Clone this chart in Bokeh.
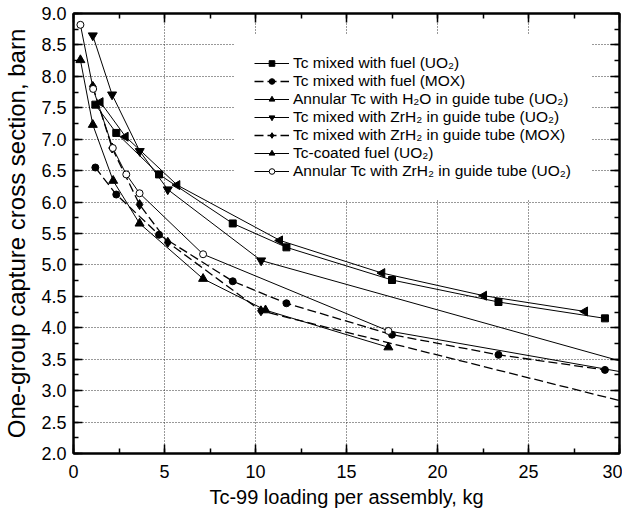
from bokeh.plotting import figure
from bokeh.models import (Legend, LegendItem, LinearAxis, SingleIntervalTicker,
                          Range1d, NumeralTickFormatter, CustomJSTickFormatter)
from bokeh.embed import file_html
from bokeh.resources import INLINE

# ---- data ----
x_uo2_mixed = [1.2, 2.35, 4.7, 8.75, 11.7, 17.5, 23.35, 29.2]
y_uo2_mixed = [7.55, 7.10, 6.44, 5.66, 5.28, 4.76, 4.41, 4.15]

x_mox_mixed = [1.2, 2.35, 4.7, 8.75, 11.7, 17.5, 23.35, 29.2]
y_mox_mixed = [6.55, 6.12, 5.48, 4.74, 4.39, 3.89, 3.57, 3.33]

x_h2o_annular = [0.38, 1.06, 2.18, 3.63, 7.12, 10.55, 17.3]
y_h2o_annular = [8.26, 7.23, 6.34, 5.66, 4.78, 4.28, 3.69]

x_zrh2_uo2 = [1.06, 2.12, 3.64, 5.18, 10.31, 35.0]
y_zrh2_uo2 = [8.65, 7.71, 6.81, 6.20, 5.07, 3.07]

x_zrh2_mox = [1.06, 2.12, 3.63, 5.18, 10.3, 35.0]
y_zrh2_mox = [7.84, 6.86, 5.96, 5.36, 4.27, 2.48]

x_coated = [1.48, 2.86, 5.70, 11.34, 16.96, 22.55, 28.1]
y_coated = [7.59, 7.04, 6.27, 5.39, 4.87, 4.51, 4.26]

x_zrh2_annular = [0.38, 1.08, 2.16, 2.9, 3.63, 7.12, 17.3, 35.0]
y_zrh2_annular = [8.82, 7.80, 6.86, 6.44, 6.14, 5.17, 3.95, 3.05]

labels = [
    "Tc mixed with fuel (UO\u2082)",
    "Tc mixed with fuel (MOX)",
    "Annular Tc with H\u2082O in guide tube (UO\u2082)",
    "Tc mixed with ZrH\u2082 in guide tube (UO\u2082)",
    "Tc mixed with ZrH\u2082 in guide tube (MOX)",
    "Tc-coated fuel (UO\u2082)",
    "Annular Tc with ZrH\u2082 in guide tube (UO\u2082)",
]

FONT = "Liberation Sans"

p = figure(width=622, height=512, output_backend="svg",
           toolbar_location=None, x_range=Range1d(0, 30), y_range=Range1d(2, 9),
           min_border_left=73, min_border_right=3, min_border_top=13,
           min_border_bottom=59, background_fill_color="white",
           border_fill_color="white")
p.outline_line_color = "black"
p.outline_line_width = 2

bottom = p.below[0]
left = p.left[0]
bottom.ticker = SingleIntervalTicker(interval=5, num_minor_ticks=2)
left.ticker = SingleIntervalTicker(interval=0.5, num_minor_ticks=2)
left.formatter = NumeralTickFormatter(format="0.0")
bottom.axis_label = "Tc-99 loading per assembly, kg"
left.axis_label = "One-group capture cross section, barn"

blank = CustomJSTickFormatter(code="return ''")
top = LinearAxis(ticker=SingleIntervalTicker(interval=5, num_minor_ticks=2),
                 formatter=blank, major_label_standoff=0)
right = LinearAxis(ticker=SingleIntervalTicker(interval=0.5, num_minor_ticks=2),
                   formatter=blank, major_label_standoff=0)
p.add_layout(top, "above")
p.add_layout(right, "right")

for ax in [bottom, left, top, right]:
    ax.axis_line_width = 2
    ax.axis_line_color = "black"
    ax.major_tick_in = 9
    ax.major_tick_out = 0
    ax.minor_tick_in = 5
    ax.minor_tick_out = 0
    ax.major_tick_line_width = 1.5
    ax.minor_tick_line_width = 1.5
    ax.major_label_text_font = FONT
    ax.axis_label_text_font = FONT
    ax.axis_label_text_font_style = "normal"
    ax.axis_label_text_color = "black"
    ax.major_label_text_color = "black"

bottom.major_label_text_font_size = "18px"
left.major_label_text_font_size = "18px"
bottom.axis_label_text_font_size = "20px"
left.axis_label_text_font_size = "24px"
bottom.major_label_standoff = 11
left.major_label_standoff = 7
bottom.axis_label_standoff = 5
left.axis_label_standoff = 8

for g in (p.xgrid[0], p.ygrid[0]):
    g.grid_line_color = "#333333"
    g.grid_line_dash = "1 2"
    g.grid_line_width = 1

series = [
    (x_uo2_mixed, y_uo2_mixed, "square", "black", "solid", 7),
    (x_mox_mixed, y_mox_mixed, "circle", "black", "9 4", 7),
    (x_h2o_annular, y_h2o_annular, "triangle", "black", "solid", 9),
    (x_zrh2_uo2, y_zrh2_uo2, "inverted_triangle", "black", "solid", 9),
    (x_zrh2_mox, y_zrh2_mox, "diamond", "black", "9 4", 10),
    (x_coated, y_coated, "triangle", "black", "solid", 9),
    (x_zrh2_annular, y_zrh2_annular, "circle", "white", "solid", 7),
]

items = []
for i, (xs, ys, mk, fill, dash, size) in enumerate(series):
    lw = 1.3 if dash != "solid" else 1
    r1 = p.line(xs, ys, line_color="black", line_width=lw, line_dash=dash)
    angle = 1.5708 if i == 5 else 0  # left-pointing triangle
    r2 = p.scatter(xs, ys, marker=mk, size=size, fill_color=fill,
                   line_color="black", line_width=1, angle=angle)
    items.append(LegendItem(label=labels[i], renderers=[r1, r2]))

legend = Legend(items=items, location=(161, 253))
legend.background_fill_color = "white"
legend.background_fill_alpha = 1.0
legend.border_line_alpha = 0
legend.padding = 20
legend.margin = 0
legend.glyph_width = 35
legend.glyph_height = 14
legend.label_height = 14
legend.spacing = -1
legend.label_standoff = 4
legend.label_text_font = FONT
legend.label_text_font_size = "15.5px"
legend.label_text_color = "black"
p.add_layout(legend, "center")

open("out.html", "w").write(file_html(p, INLINE))
